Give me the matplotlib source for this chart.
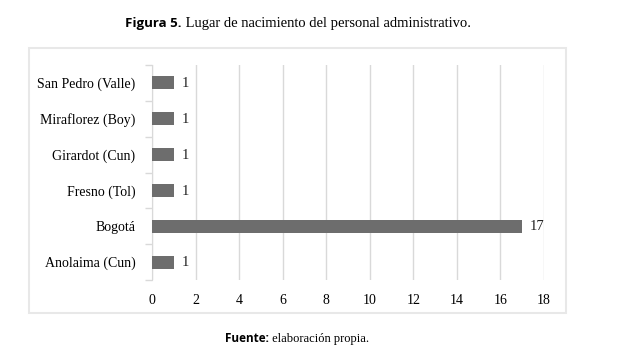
import matplotlib.pyplot as plt
from matplotlib.patches import Rectangle

# data
lugares = ["Anolaima (Cun)", "Bogotá", "Fresno (Tol)", "Girardot (Cun)",
           "Miraflorez (Boy)", "San Pedro (Valle)"]
personas = [1, 17, 1, 1, 1, 1]
xticks = [0, 2, 4, 6, 8, 10, 12, 14, 16, 18]

serif = "Liberation Serif"
bar_color = "#6d6d6d"
grid_color = "#d9d9d9"

fig = plt.figure(figsize=(6.27, 3.59), dpi=100)
ax = fig.add_axes([152/627, 1-280/359, 392/627, 215/359])

ypos = list(range(len(lugares)))
ax.barh(ypos, personas, height=0.36, color=bar_color, zorder=3)
for y, v in zip(ypos, personas):
    ax.annotate(str(v), (v, y), xytext=(5.5, -0.5), textcoords="offset points",
                va="center", ha="left", fontsize=10.5, family=serif, color="#222222")

ax.set_xlim(0, 18)
ax.set_ylim(-0.5, len(lugares) - 0.5)
ax.set_xticks(xticks)
ax.set_xticklabels([str(t) for t in xticks], family=serif, fontsize=10)
ax.set_yticks(ypos)
ax.set_yticklabels(lugares, family=serif, fontsize=10)
ax.tick_params(axis="x", length=0, pad=10)
ax.tick_params(axis="y", length=0, pad=12)
# category separators on the left axis
ax.set_yticks([y + 0.5 for y in range(-1, len(lugares))], minor=True)
ax.tick_params(axis="y", which="minor", length=5, color=grid_color, width=1)

ax.grid(axis="x", color=grid_color, linewidth=1, zorder=0)
for s in ["top", "right", "bottom"]:
    ax.spines[s].set_visible(False)
ax.spines["left"].set_color(grid_color)

# outer frame of the chart
fig.patches.append(Rectangle((29/627, 1-313/359), 537/627, 265/359,
                             transform=fig.transFigure, fill=False,
                             edgecolor="#e8e8e8", linewidth=1.5))

# title and source: bold sans prefix followed by serif text
t1 = fig.text(125/627, 1-24/359, "Figura 5.", fontsize=9.5, weight="bold",
              family="Open Sans", va="center", ha="left")
ax.annotate(" Lugar de nacimiento del personal administrativo.", xy=(1, 0.5),
            xycoords=t1, va="center", ha="left", fontsize=10.5, family=serif,
            annotation_clip=False)

t2 = fig.text(225/627, 1-339/359, "Fuente:", fontsize=8.5, weight="bold",
              family="Open Sans", va="center", ha="left")
ax.annotate(" elaboración propia.", xy=(1, 0.5), xycoords=t2, va="center",
            ha="left", fontsize=9, family=serif, annotation_clip=False)

fig.savefig("out.png", dpi=100)
